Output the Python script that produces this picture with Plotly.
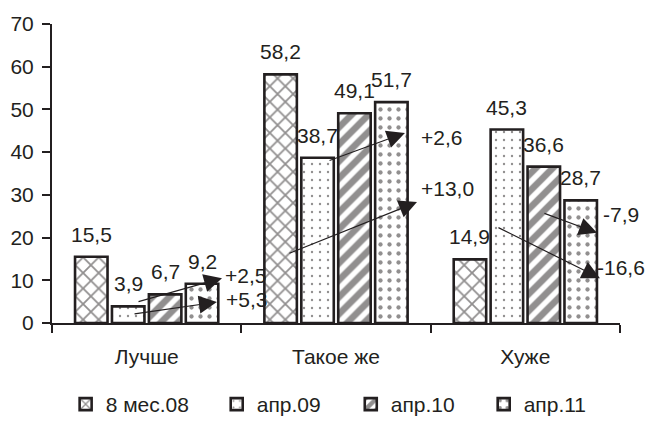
import plotly.graph_objects as go

categories = ["Лучше", "Такое же", "Хуже"]
series_names = ["8 мес.08", "апр.09", "апр.10", "апр.11"]
v_8mes08 = [15.5, 58.2, 14.9]
v_apr09 = [3.9, 38.7, 45.3]
v_apr10 = [6.7, 49.1, 36.6]
v_apr11 = [9.2, 51.7, 28.7]
values = [v_8mes08, v_apr09, v_apr10, v_apr11]
y_ticks = [0, 10, 20, 30, 40, 50, 60, 70]

# change arrows: (category index, from series, to series)
changes = [(0, 2, 3), (0, 1, 3), (1, 2, 3), (1, 1, 3), (2, 2, 3), (2, 1, 3)]
# arrow geometry (layout): tail x, tail y, head x, head y, label x, label y
arrow_geom = [
    (-0.051, 4.9, 0.398, 10.5, 0.408, 11.2),
    (-0.072, 2.1, 0.371, 4.9, 0.414, 5.6),
    (0.958, 37.9, 1.364, 44.5, 1.444, 43.5),
    (0.746, 16.2, 1.428, 28.3, 1.444, 31.6),
    (2.093, 25.8, 2.379, 21.1, 2.405, 25.3),
    (1.850, 22.5, 2.394, 10.5, 2.372, 13.1),
]
# legend positions (paper x of each legend box)
legend_x = [0.024, 0.290, 0.526, 0.760]

FONT = "Liberation Sans Narrow, Arial Narrow, Liberation Sans, sans-serif"
FS = 21
BARGAP = 0.22
BARGROUPGAP = 0.12
INK = "#231f20"

patterns = [
    dict(shape="x", size=11, solidity=0.3),
    dict(shape=".", size=8, solidity=0.07),
    dict(shape="/", size=12, solidity=0.55),
    dict(shape=".", size=9, solidity=0.18),
]

fig = go.Figure()
for i, (name, vals, pat) in enumerate(zip(series_names, values, patterns)):
    fig.add_trace(go.Bar(
        x=categories, y=vals, name=name,
        legend="legend" if i == 0 else f"legend{i + 1}",
        marker=dict(color="white",
                    line=dict(color=INK, width=2.6),
                    pattern=dict(fgcolor=INK, bgcolor="white", fillmode="overlay", **pat)),
    ))

annotations = []
slot = (1 - BARGAP) / len(series_names)
for si, vals in enumerate(values):
    off = (si - (len(series_names) - 1) / 2) * slot
    for ci, v in enumerate(vals):
        annotations.append(dict(
            x=ci + off, y=v, xref="x", yref="y", text=f"{v:.1f}".replace(".", ","),
            showarrow=False, yanchor="bottom", yshift=9,
            font=dict(family=FONT, size=FS, color=INK),
        ))

for (ci, s_from, s_to), (tx, ty, hx, hy, lx, ly) in zip(changes, arrow_geom):
    d = values[s_to][ci] - values[s_from][ci]
    label = f"{d:+.1f}".replace(".", ",")
    annotations.append(dict(
        x=hx, y=hy, ax=tx, ay=ty, xref="x", yref="y", axref="x", ayref="y",
        text="", showarrow=True, arrowhead=2, arrowsize=3, arrowwidth=1.2,
        arrowcolor=INK, standoff=0,
    ))
    annotations.append(dict(
        x=lx, y=ly, xref="x", yref="y", text=label, showarrow=False,
        xanchor="left", yanchor="middle", borderpad=0,
        font=dict(family=FONT, size=FS, color=INK),
    ))

legend_common = dict(orientation="h", xanchor="left",
                     yref="container", y=0, yanchor="bottom",
                     font=dict(family=FONT, size=FS, color=INK),
                     itemwidth=30, bgcolor="rgba(0,0,0,0)")
legends = {}
for i, lx in enumerate(legend_x):
    key = "legend" if i == 0 else f"legend{i + 1}"
    legends[key] = dict(x=lx, **legend_common)

fig.update_layout(
    template="none",
    width=649, height=425,
    margin=dict(l=52, r=29, t=24, b=102, autoexpand=False),
    paper_bgcolor="white", plot_bgcolor="white",
    barmode="group", bargap=BARGAP, bargroupgap=BARGROUPGAP,
    font=dict(family=FONT, size=FS, color=INK),
    showlegend=True,
    annotations=annotations,
    **legends,
)
fig.update_xaxes(
    type="category", range=[-0.5, 2.5], showline=True, linecolor=INK, linewidth=2,
    ticks="outside", tickson="boundaries", ticklen=8, tickwidth=2, tickcolor=INK,
    ticklabelstandoff=14, showgrid=False, zeroline=False, automargin=False,
)
fig.update_yaxes(
    range=[0, 70], tickvals=y_ticks, showline=True, linecolor=INK, linewidth=2,
    ticks="outside", ticklen=8, tickwidth=2, tickcolor=INK, ticklabelstandoff=4,
    showgrid=False, zeroline=False, automargin=False,
)

fig.write_html("out.html", config={"displayModeBar": False},
               post_script="document.body.style.margin='0';")
